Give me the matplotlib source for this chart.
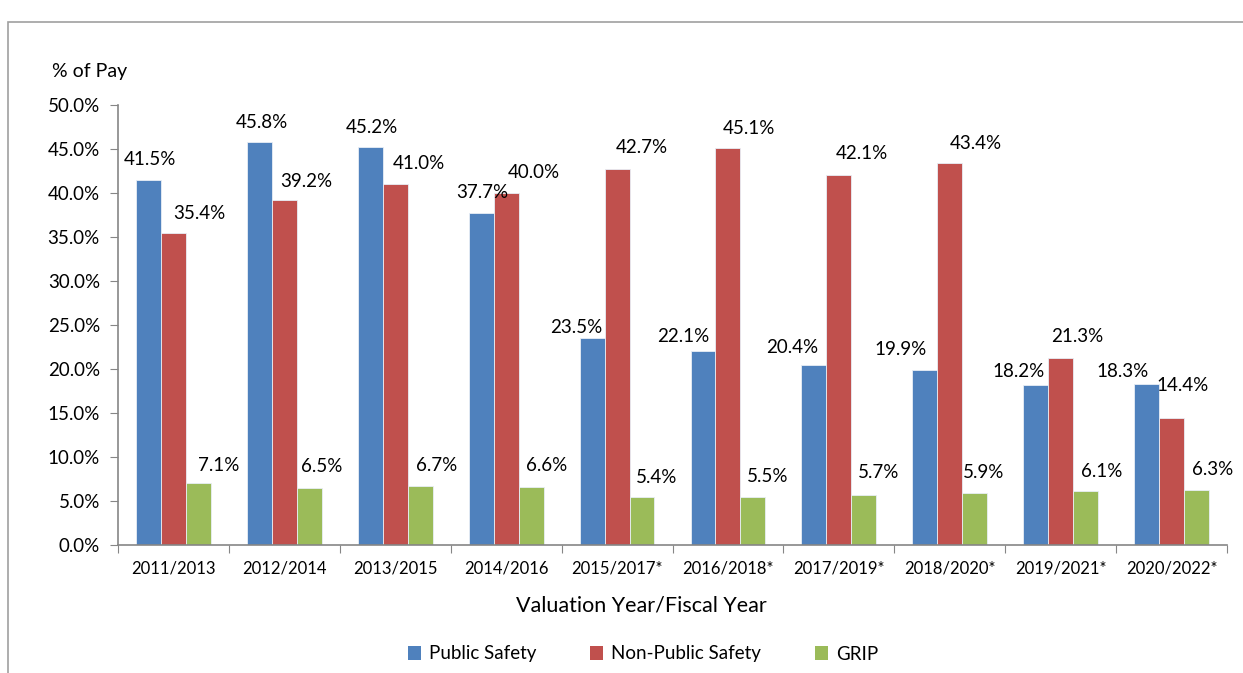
import matplotlib
matplotlib.use("Agg")
import matplotlib.pyplot as plt
from matplotlib.patches import Rectangle, Patch
import numpy as np

categories = ["2011/2013", "2012/2014", "2013/2015", "2014/2016", "2015/2017*",
              "2016/2018*", "2017/2019*", "2018/2020*", "2019/2021*", "2020/2022*"]
public_safety = [41.5, 45.8, 45.2, 37.7, 23.5, 22.1, 20.4, 19.9, 18.2, 18.3]
non_public_safety = [35.4, 39.2, 41.0, 40.0, 42.7, 45.1, 42.1, 43.4, 21.3, 14.4]
grip = [7.1, 6.5, 6.7, 6.6, 5.4, 5.5, 5.7, 5.9, 6.1, 6.3]
series_names = ["Public Safety", "Non-Public Safety", "GRIP"]
yticks = [0, 5, 10, 15, 20, 25, 30, 35, 40, 45, 50]

# style: label offsets in pixels (dx right, dy above bar top)
lab_dx = [
    [1, 2, 2, 1, -16, -20, -22, -24, -17, -24],
    [26, 22, 24, 28, 25, 21, 23, 26, 17, 11],
    [20, 12, 16, 16, 15, 15, 15, 9, 16, 16],
]
lab_dy = [
    [20, 19, 20, 21, 11, 14, 18, 20, 13, 12],
    [20, 19, 21, 21, 22, 20, 21, 20, 21, 33],
    [17, 21, 21, 21, 20, 20, 22, 21, 20, 20],
]
colors = ["#4F81BD", "#C0504D", "#9BBB59"]
FONT = "Lato"
W, H, DPI = 1243, 673, 100

fig = plt.figure(figsize=(W / DPI, H / DPI), dpi=DPI)
fig.patch.set_facecolor("white")

# outer frame
fig.add_artist(Rectangle((8 / W, -0.1), 2, (H - 22) / H + 0.1, transform=fig.transFigure,
                         facecolor="none", edgecolor="#A0A0A0", linewidth=1.2))

ax = fig.add_axes([118 / W, (H - 545) / H, 1109 / W, 440 / H])
x = np.arange(len(categories))
bw = 0.225
data = [public_safety, non_public_safety, grip]
px2pt = 72 / DPI
for k, vals in enumerate(data):
    pos = x + (k - 1) * bw
    ax.bar(pos, vals, width=bw, color=colors[k], edgecolor="#E8EEF6", linewidth=0.6,
           label=series_names[k], zorder=2)
    for i, v in enumerate(vals):
        ax.annotate(f"{v:.1f}%", (pos[i], v), xytext=(lab_dx[k][i] * px2pt, lab_dy[k][i] * px2pt),
                    textcoords="offset points", ha="center", va="center",
                    fontsize=13.5, family=FONT, color="black")

ax.set_xlim(-0.5, len(categories) - 0.5)
ax.set_ylim(0, 50)
ax.set_yticks(yticks)
ax.set_yticklabels([f"{t:.1f}%" for t in yticks], family=FONT, fontsize=13.5)
ax.set_xticks(np.arange(len(categories) + 1) - 0.5)
ax.set_xticklabels([])
ax.set_xticks(x, minor=True)
ax.set_xticklabels(categories, minor=True, family=FONT, fontsize=12)
ax.tick_params(axis="x", which="minor", length=0, pad=11)
ax.tick_params(axis="x", which="major", length=6, color="#868686", direction="out")
ax.tick_params(axis="y", length=6, color="#868686", direction="out", pad=7)
for s in ["top", "right"]:
    ax.spines[s].set_visible(False)
for s in ["left", "bottom"]:
    ax.spines[s].set_color("#868686")
    ax.spines[s].set_linewidth(1.2)

fig.text(52 / W, 1 - 72 / H, "% of Pay", family=FONT, fontsize=14, ha="left", va="center")
fig.text(641 / W, 1 - 606 / H, "Valuation Year/Fiscal Year", family=FONT, fontsize=15.5,
         ha="center", va="center")

handles = [Patch(facecolor=c, edgecolor="none") for c in colors]
fig.legend(handles, series_names, loc="center", bbox_to_anchor=(643 / W, 1 - 654 / H),
           ncol=3, frameon=False, prop={"family": FONT, "size": 13.5},
           handlelength=0.7, handleheight=0.7, handletextpad=0.4, columnspacing=2.9)

fig.savefig("out.png", dpi=DPI)
